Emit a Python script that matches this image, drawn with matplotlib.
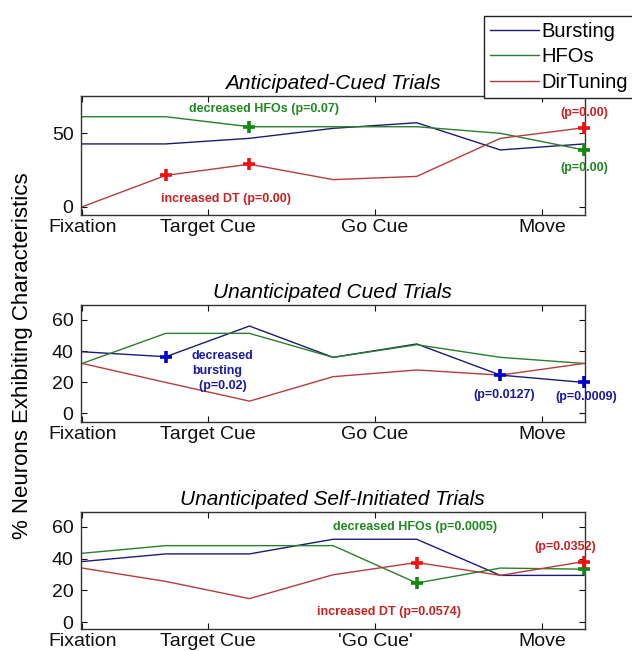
import numpy as np
import matplotlib
matplotlib.use('Agg')
import matplotlib.pyplot as plt

plt.rcParams['font.family'] = ['Liberation Sans', 'DejaVu Sans']

# time bins (7 samples), tick positions / labels
bins = [0, 1, 2, 3, 4, 5, 6]
tick_pos = [0, 1.5, 3.5, 5.5]
tick_labels = ["Fixation", "Target Cue", "Go Cue", "Move"]
tick_labels_self = ["Fixation", "Target Cue", "'Go Cue'", "Move"]

series_names = ["Bursting", "HFOs", "DirTuning"]

# Anticipated-Cued Trials
ac_burst = [42.8, 42.8, 46.6, 53.4, 57.2, 38.7, 42.8]
ac_hfo = [61.3, 61.3, 54.5, 54.5, 54.5, 50.0, 38.7]
ac_dt = [0.0, 21.4, 29.0, 18.5, 20.7, 46.6, 53.8]

# Unanticipated Cued Trials
uc_burst = [39.6, 36.4, 56.1, 36.0, 44.6, 24.6, 19.9]
uc_hfo = [32.1, 51.4, 51.4, 36.0, 44.1, 36.0, 32.1]
uc_dt = [32.1, 19.9, 7.9, 23.6, 27.9, 24.6, 32.1]

# Unanticipated Self-Initiated Trials
us_burst = [38.1, 42.9, 42.9, 52.1, 52.1, 29.4, 29.4]
us_hfo = [43.3, 48.1, 48.1, 48.1, 24.6, 34.0, 33.3]
us_dt = [34.0, 25.6, 14.8, 29.8, 37.5, 29.4, 38.1]

# significant bins (+ markers) per panel: series index -> bin indices
ac_sig = {1: [2, 6], 2: [1, 2, 6]}
uc_sig = {0: [1, 5, 6]}
us_sig = {1: [4, 6], 2: [4, 6]}

LINE_COLORS = ["#1c1c78", "#2a7f2a", "#b83c3c"]
MARK_COLORS = ["#0000c8", "#118811", "#ee1111"]
TEXT_COLORS = ["#1a1aa8", "#1f8a1f", "#cc2222"]

fig = plt.figure(figsize=(6.32, 6.51), dpi=100)
fig.patch.set_facecolor("white")

panels = [
    ("Anticipated-Cued Trials", [ac_burst, ac_hfo, ac_dt], ac_sig,
     [0.1274, 0.6697, 0.798, 0.1828], (-5.6, 75.4), [0, 50], tick_labels),
    ("Unanticipated Cued Trials", [uc_burst, uc_hfo, uc_dt], uc_sig,
     [0.1274, 0.3522, 0.798, 0.1793], (-5.3, 69.6), [0, 20, 40, 60], tick_labels),
    ("Unanticipated Self-Initiated Trials", [us_burst, us_hfo, us_dt], us_sig,
     [0.1274, 0.0333, 0.798, 0.1806], (-4.5, 69.4), [0, 20, 40, 60], tick_labels_self),
]

axes = []
for title, data, sig, rect, ylim, yticks, xlabels in panels:
    ax = fig.add_axes(rect)
    for i, vals in enumerate(data):
        ax.plot(bins, vals, color=LINE_COLORS[i], linewidth=1.0, label=series_names[i])
    for i, idx in sig.items():
        ax.plot([bins[k] for k in idx], [data[i][k] for k in idx], linestyle="none",
                marker="+", markersize=9, markeredgewidth=2.6,
                color=MARK_COLORS[i], zorder=5, clip_on=False)
    ax.set_xlim(-0.02, 6.01)
    ax.set_ylim(*ylim)
    ax.set_xticks(tick_pos)
    ax.set_xticklabels(xlabels)
    ax.set_yticks(yticks)
    ax.tick_params(direction="in", top=True, right=True, length=4, width=0.8,
                   labelsize=14, colors="#111111")
    ax.tick_params(axis="y", pad=5)
    ax.tick_params(axis="x", pad=3)
    for s in ax.spines.values():
        s.set_color("#333333")
        s.set_linewidth(1.0)
    ax.set_title(title, fontsize=15, style="italic", pad=5)
    axes.append(ax)

ann = dict(fontsize=9, fontweight="bold", ha="center", va="center")

ax1, ax2, ax3 = axes
ax1.text(2.17, 66.6, "decreased HFOs (p=0.07)", color=TEXT_COLORS[1], **ann)
ax1.text(1.72, 5.2, "increased DT (p=0.00)", color=TEXT_COLORS[2], **ann)
ax1.text(6.0, 63.8, "(p=0.00)", color=TEXT_COLORS[2], **ann)
ax1.text(6.0, 26.4, "(p=0.00)", color=TEXT_COLORS[1], **ann)

ax2.text(1.31, 27.3, "decreased\nbursting\n  (p=0.02)", color=TEXT_COLORS[0],
         fontsize=9, fontweight="bold", ha="left", va="center", linespacing=1.3)
ax2.text(5.05, 11.8, "(p=0.0127)", color=TEXT_COLORS[0], **ann)
ax2.text(6.03, 10.5, "(p=0.0009)", color=TEXT_COLORS[0], **ann)

ax3.text(3.98, 59.8, "decreased HFOs (p=0.0005)", color=TEXT_COLORS[1], **ann)
ax3.text(5.78, 47.3, "(p=0.0352)", color=TEXT_COLORS[2], **ann)
ax3.text(3.67, 6.1, "increased DT (p=0.0574)", color=TEXT_COLORS[2], **ann)

handles = ax1.get_lines()[:3]
leg = fig.legend(handles, series_names, loc="upper left",
                 bbox_to_anchor=(484 / 632, 1 - 15.7 / 651), borderaxespad=0,
                 fontsize=14.5, handlelength=2.45, handletextpad=0.1,
                 labelspacing=0.32, borderpad=0.3, fancybox=False,
                 framealpha=1, edgecolor="#222222")
leg.get_frame().set_linewidth(1.0)

fig.text(0.036, 0.453, "% Neurons Exhibiting Characteristics", rotation=90,
         ha="center", va="center", fontsize=16)

fig.savefig("out.png", dpi=100)
